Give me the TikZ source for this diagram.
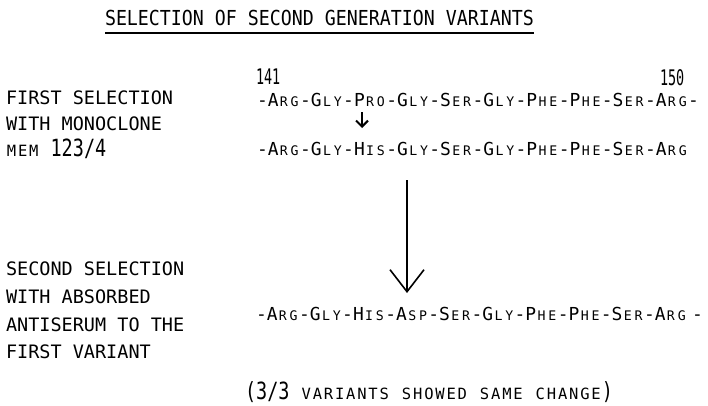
\documentclass[tikz,border=0pt]{standalone}
\usepackage{fontspec}
\usepackage{graphicx}
\usetikzlibrary{arrows.meta,calc}
\newfontfamily\mono{DejaVu Sans Mono}
\newlength\cw
\setlength\cw{10.78pt}
\newlength\lw
\setlength\lw{11.15pt}
\newcommand\seqfont{\mono\fontsize{17.9}{20}\selectfont}
\newcommand\scfont{\mono\fontsize{13.2}{14}\selectfont}
\newcommand\rs[3]{#1\makebox[\cw]{\scfont #2}\makebox[\cw]{\scfont #3}}
\newcommand\lblfont{\mono\fontsize{18.5}{20}\selectfont}
\newcommand\lsc[1]{\makebox[\lw]{\mono\fontsize{15.5}{16}\selectfont #1}}
\newcommand\titlefont{\mono\fontsize{18.27}{20}\selectfont}
\newcommand\numtall[1]{\scalebox{0.75}[1.2]{#1}}
\newcommand\digtall[1]{\scalebox{1}[1.28]{#1}}
\tikzset{
  txt/.style={anchor=base west, inner sep=0pt, outer sep=0pt},
  lbl/.style={txt, font=\lblfont},
  seq/.style={txt, font=\seqfont},
}
\begin{document}
\begin{tikzpicture}[x=1pt,y=-1pt]
\fill[white] (0,0) rectangle (708,405);
\useasboundingbox (0,0) rectangle (708,405);
% title
\node[txt, font=\titlefont] (title) at (105,25) {\scalebox{1}[1.13]{SELECTION OF SECOND GENERATION VARIANTS}};
\draw[line width=1.4pt] ($(title.base west)+(0,8)$) -- ($(title.base east)+(0,8)$);
% residue numbers
\node[seq] (n141) at (256,84) {\numtall{141}};
\node[seq] (n150) at (660,85) {\numtall{150}};
% first block labels
\node[lbl] (l1a) at (6,104) {FIRST SELECTION};
\node[lbl] (l1b) at (6,130) {WITH MONOCLONE};
\node[lbl] (l1c) at (6,156) {\lsc{M}\lsc{E}\lsc{M}\makebox[\lw]{}\digtall{123/4}};
% sequences
\node[seq] (r1) at (257,106) {-\rs ARG-\rs GLY-\rs PRO-\rs GLY-\rs SER-\rs GLY-\rs PHE-\rs PHE-\rs SER-\rs ARG-};
\node[seq] (r2) at (257,155) {-\rs ARG-\rs GLY-\rs HIS-\rs GLY-\rs SER-\rs GLY-\rs PHE-\rs PHE-\rs SER-\rs ARG};
\node[seq] (r3) at (256,320) {-\rs ARG-\rs GLY-\rs HIS-\rs ASP-\rs SER-\rs GLY-\rs PHE-\rs PHE-\rs SER-\rs ARG\hspace{5pt}-};
% second block labels
\node[lbl] (l2a) at (6,275) {SECOND SELECTION};
\node[lbl] (l2b) at (6,303) {WITH ABSORBED};
\node[lbl] (l2c) at (6,331) {ANTISERUM TO THE};
\node[lbl] (l2d) at (6,358) {FIRST VARIANT};
% footnote
\node[lbl] (foot) at (245,399) {\digtall{(3/3}\makebox[\lw]{}\lsc{V}\lsc{A}\lsc{R}\lsc{I}\lsc{A}\lsc{N}\lsc{T}\lsc{S}\makebox[\lw]{}\lsc{S}\lsc{H}\lsc{O}\lsc{W}\lsc{E}\lsc{D}\makebox[\lw]{}\lsc{S}\lsc{A}\lsc{M}\lsc{E}\makebox[\lw]{}\lsc{C}\lsc{H}\lsc{A}\lsc{N}\lsc{G}\lsc{E}\digtall{)}};
% arrows
\coordinate (sa1) at (362,112);
\coordinate (sa2) at (362,128);
\draw[line width=2.2pt, -{Straight Barb[length=6pt,width=12pt,line width=2pt]}] (sa1) -- (sa2);
\coordinate (ba1) at (407,180);
\coordinate (ba2) at (407,293);
\draw[line width=1.6pt, -{Straight Barb[length=22pt,width=34pt,line width=1.6pt]}] (ba1) -- (ba2);
\end{tikzpicture}
\end{document}
